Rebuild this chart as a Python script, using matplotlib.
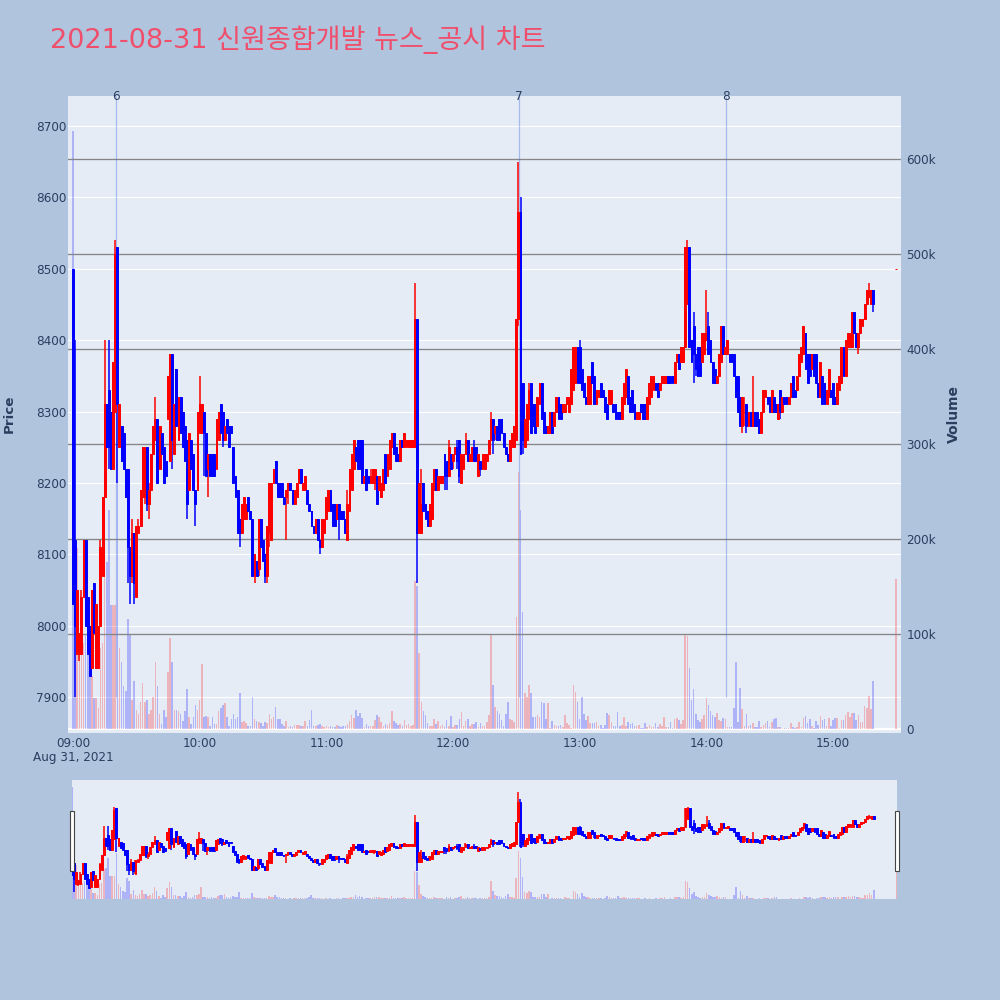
import numpy as np
import matplotlib
matplotlib.use("Agg")
import matplotlib.pyplot as plt
from matplotlib.patches import Rectangle

title = "2021-08-31 신원종합개발 뉴스_공시 차트"
hour_ticks = [0, 60, 120, 180, 240, 300, 360]
hour_labels = ["09:00", "10:00", "11:00", "12:00", "13:00", "14:00", "15:00"]
price_ticks = [7900, 8000, 8100, 8200, 8300, 8400, 8500, 8600, 8700]
volume_ticks = [0, 100, 200, 300, 400, 500, 600]
volume_labels = ["0", "100k", "200k", "300k", "400k", "500k", "600k"]
news_minutes = [20.4, 211.3, 309.3]
news_labels = ["6", "7", "8"]

minutes = list(range(380)) + [390]

opens = [
8500,8120,7960,7960,7960,8040,8120,8040,8000,7940,
8060,7940,7940,8000,8070,8180,8310,8330,8300,8220,
8300,8530,8250,8280,8270,8220,8220,8110,8070,8130,
8040,8130,8140,8180,8180,8250,8170,8190,8240,8260,
8290,8220,8270,8250,8230,8290,8230,8380,8240,8360,
8260,8320,8300,8280,8260,8190,8260,8240,8190,8190,
8270,8270,8300,8270,8220,8240,8240,8240,8220,8260,
8310,8300,8260,8290,8280,8280,8250,8210,8190,8150,
8130,8150,8150,8180,8160,8150,8070,8090,8080,8150,
8120,8100,8070,8130,8120,8200,8230,8200,8200,8200,
8180,8180,8190,8200,8190,8170,8180,8200,8220,8190,
8190,8190,8170,8160,8140,8130,8150,8120,8110,8130,
8150,8160,8190,8170,8170,8150,8170,8160,8160,8150,
8120,8160,8190,8220,8250,8260,8260,8260,8200,8220,
8210,8200,8200,8200,8210,8190,8180,8190,8240,8210,
8220,8250,8270,8250,8240,8230,8260,8250,8250,8250,
8250,8250,8250,8430,8130,8130,8200,8170,8160,8140,
8150,8190,8220,8190,8200,8200,8240,8230,8210,8240,
8230,8240,8250,8260,8200,8220,8240,8260,8230,8230,
8250,8250,8210,8230,8220,8220,8230,8240,8260,8290,
8270,8280,8290,8290,8270,8250,8240,8230,8250,8250,
8260,8430,8580,8340,8250,8260,8290,8340,8310,8310,
8280,8310,8340,8300,8280,8270,8270,8300,8280,8300,
8320,8310,8300,8300,8310,8300,8310,8330,8340,8390,
8390,8360,8340,8320,8310,8310,8370,8350,8310,8320,
8340,8330,8320,8310,8310,8310,8310,8310,8300,8300,
8290,8310,8320,8350,8320,8330,8310,8290,8290,8310,
8310,8310,8290,8310,8320,8330,8340,8340,8330,8340,
8340,8340,8350,8350,8350,8340,8370,8380,8370,8370,
8390,8450,8530,8400,8420,8380,8390,8390,8370,8380,
8400,8420,8400,8370,8360,8340,8350,8370,8420,8380,
8380,8380,8380,8380,8350,8350,8320,8280,8300,8310,
8280,8300,8280,8300,8300,8290,8270,8300,8320,8320,
8320,8300,8320,8310,8290,8330,8300,8320,8320,8310,
8320,8350,8330,8330,8350,8370,8380,8410,8380,8380,
8360,8380,8380,8340,8320,8350,8340,8310,8320,8330,
8340,8320,8310,8330,8340,8390,8350,8390,8390,8390,
8440,8410,8390,8410,8420,8430,8450,8460,8450,8470,
8500]

closes = [
8030,8000,8050,7990,8040,8120,8000,7960,7930,8050,
7990,8030,8000,8110,8180,8310,8250,8250,8220,8370,
8520,8310,8310,8230,8220,8180,8110,8070,8130,8060,
8140,8140,8190,8250,8250,8170,8190,8240,8280,8290,
8200,8280,8240,8200,8210,8350,8380,8260,8310,8280,
8320,8270,8250,8230,8170,8270,8220,8190,8170,8300,
8310,8310,8270,8210,8240,8210,8210,8210,8290,8300,
8270,8260,8280,8270,8250,8270,8200,8180,8130,8130,
8170,8180,8170,8160,8150,8070,8100,8070,8150,8110,
8090,8070,8140,8200,8200,8220,8200,8180,8180,8180,
8170,8190,8200,8190,8170,8190,8200,8220,8200,8200,
8210,8170,8160,8140,8130,8150,8120,8110,8150,8150,
8180,8190,8160,8140,8140,8170,8150,8150,8150,8130,
8170,8220,8240,8260,8230,8220,8220,8200,8210,8190,
8200,8210,8220,8220,8170,8210,8200,8220,8200,8240,
8260,8270,8240,8230,8230,8260,8250,8270,8260,8260,
8260,8260,8430,8130,8200,8170,8160,8150,8140,8170,
8200,8220,8190,8210,8210,8210,8210,8210,8250,8220,
8240,8250,8230,8210,8240,8240,8260,8230,8240,8250,
8230,8230,8240,8220,8240,8240,8240,8260,8290,8260,
8280,8260,8260,8270,8250,8240,8230,8260,8270,8280,
8430,8580,8240,8260,8290,8310,8330,8270,8280,8270,
8320,8340,8290,8270,8270,8280,8300,8270,8300,8320,
8290,8290,8310,8310,8320,8320,8360,8390,8390,8340,
8340,8330,8320,8310,8350,8350,8340,8310,8330,8330,
8320,8320,8300,8290,8330,8330,8300,8290,8290,8290,
8320,8340,8360,8310,8300,8300,8290,8300,8300,8300,
8290,8290,8320,8340,8350,8350,8330,8320,8340,8350,
8350,8350,8340,8340,8340,8370,8380,8360,8390,8390,
8530,8530,8390,8370,8380,8360,8350,8350,8410,8410,
8410,8380,8370,8340,8340,8350,8380,8420,8380,8390,
8400,8370,8370,8350,8320,8300,8280,8320,8300,8280,
8300,8280,8300,8280,8280,8270,8300,8330,8330,8310,
8300,8330,8300,8300,8310,8300,8320,8310,8310,8320,
8340,8320,8320,8350,8380,8390,8420,8360,8340,8350,
8380,8350,8340,8320,8370,8310,8310,8330,8360,8320,
8310,8310,8340,8350,8390,8350,8400,8410,8410,8440,
8410,8390,8410,8430,8430,8450,8470,8470,8470,8450,
8500]

highs = [
8500,8400,8050,7990,8050,8120,8120,8040,8000,8050,
8060,8030,8000,8120,8180,8400,8310,8400,8300,8370,
8540,8530,8310,8280,8270,8220,8220,8110,8150,8130,
8140,8150,8190,8250,8250,8250,8200,8240,8280,8320,
8290,8280,8270,8250,8230,8350,8380,8380,8310,8360,
8320,8320,8300,8280,8260,8270,8260,8240,8190,8300,
8350,8310,8300,8270,8240,8240,8240,8240,8290,8300,
8310,8300,8280,8290,8280,8280,8250,8210,8190,8150,
8170,8180,8170,8180,8160,8150,8100,8090,8150,8150,
8120,8100,8140,8200,8200,8220,8230,8200,8200,8200,
8180,8190,8200,8200,8190,8190,8200,8220,8220,8200,
8210,8190,8170,8160,8140,8150,8150,8120,8150,8150,
8180,8190,8190,8170,8170,8170,8170,8160,8160,8150,
8190,8220,8240,8260,8250,8260,8260,8260,8210,8220,
8210,8220,8220,8220,8210,8210,8200,8220,8240,8240,
8260,8270,8270,8250,8240,8260,8260,8270,8260,8260,
8260,8260,8480,8430,8200,8220,8200,8170,8160,8170,
8200,8220,8220,8210,8210,8210,8240,8230,8260,8240,
8240,8250,8260,8260,8240,8240,8270,8260,8240,8250,
8260,8250,8240,8230,8240,8240,8240,8260,8300,8290,
8280,8280,8290,8290,8270,8250,8240,8260,8270,8280,
8430,8650,8600,8340,8290,8310,8340,8340,8310,8310,
8320,8340,8340,8300,8280,8280,8300,8300,8300,8320,
8320,8310,8310,8310,8320,8320,8360,8390,8390,8390,
8400,8360,8340,8320,8350,8350,8370,8350,8330,8330,
8340,8330,8320,8310,8330,8330,8310,8310,8300,8300,
8320,8340,8360,8350,8320,8330,8310,8300,8300,8310,
8310,8310,8320,8340,8350,8350,8340,8340,8340,8350,
8350,8350,8350,8350,8350,8370,8380,8380,8390,8390,
8530,8540,8530,8400,8440,8380,8390,8390,8410,8410,
8470,8440,8400,8370,8360,8350,8380,8420,8420,8390,
8400,8380,8380,8380,8350,8350,8320,8320,8320,8310,
8300,8300,8350,8300,8300,8290,8300,8330,8330,8320,
8320,8330,8320,8310,8310,8330,8320,8320,8320,8320,
8340,8350,8330,8350,8380,8390,8420,8410,8380,8380,
8380,8380,8380,8340,8370,8350,8340,8330,8360,8330,
8340,8320,8340,8350,8390,8390,8400,8410,8410,8440,
8440,8410,8410,8430,8430,8450,8470,8480,8470,8470,
8500]

lows = [
8030,7900,7960,7950,7960,8040,8000,7960,7930,7940,
7990,7940,7940,8000,8070,8180,8250,8220,8220,8220,
8300,8200,8250,8230,8220,8180,8060,8030,8060,8030,
8040,8130,8140,8180,8170,8160,8150,8190,8240,8260,
8200,8220,8240,8200,8210,8290,8230,8220,8240,8280,
8260,8270,8250,8230,8150,8190,8220,8190,8140,8190,
8270,8270,8210,8210,8180,8210,8210,8210,8220,8260,
8270,8250,8260,8270,8250,8270,8200,8180,8130,8110,
8130,8150,8150,8160,8150,8070,8060,8070,8070,8110,
8090,8060,8060,8110,8120,8200,8200,8180,8180,8180,
8170,8120,8170,8190,8170,8170,8180,8200,8200,8190,
8190,8170,8160,8140,8130,8130,8120,8100,8110,8130,
8150,8160,8160,8140,8140,8150,8120,8150,8150,8130,
8120,8160,8190,8220,8230,8220,8220,8200,8200,8190,
8200,8200,8200,8190,8170,8190,8180,8190,8200,8210,
8220,8250,8240,8230,8230,8230,8250,8250,8250,8250,
8250,8250,8250,8060,8130,8130,8160,8150,8140,8140,
8150,8190,8190,8190,8200,8200,8190,8190,8210,8220,
8220,8240,8220,8200,8200,8220,8240,8230,8230,8230,
8230,8230,8210,8210,8220,8220,8230,8240,8260,8240,
8260,8260,8260,8270,8250,8240,8230,8230,8250,8250,
8260,8420,8240,8240,8250,8260,8290,8270,8280,8270,
8280,8310,8290,8270,8270,8270,8270,8270,8280,8300,
8290,8290,8300,8300,8310,8300,8310,8330,8340,8340,
8340,8330,8320,8310,8310,8310,8340,8310,8310,8320,
8320,8320,8300,8290,8310,8310,8300,8290,8290,8290,
8290,8310,8320,8310,8300,8300,8290,8290,8290,8300,
8290,8290,8290,8310,8320,8330,8330,8320,8330,8340,
8340,8340,8340,8340,8340,8340,8370,8360,8370,8370,
8390,8450,8390,8370,8340,8350,8350,8350,8370,8380,
8400,8380,8370,8340,8340,8340,8350,8370,8380,8380,
8380,8370,8370,8350,8320,8300,8280,8270,8280,8270,
8280,8280,8280,8280,8280,8270,8270,8300,8320,8310,
8300,8300,8300,8300,8290,8290,8300,8310,8310,8310,
8320,8320,8320,8330,8350,8370,8380,8360,8340,8350,
8360,8350,8340,8320,8320,8310,8310,8310,8320,8320,
8310,8310,8310,8330,8340,8350,8350,8390,8390,8390,
8410,8390,8380,8410,8420,8430,8450,8460,8450,8440,
8500]

volumes_k = [
630,400,190,100,85,90,100,80,60,55,
32,32,22,85,90,170,175,230,130,130,
130,260,85,70,45,40,115,100,30,50,
20,15,28,48,28,30,15,20,33,70,
45,15,5,20,12,60,95,70,20,20,
18,15,8,18,42,12,5,12,25,20,
30,68,12,13,12,3,12,5,5,18,
22,25,27,12,3,10,15,10,12,37,
7,8,6,3,3,33,10,8,7,6,
3,7,6,15,10,12,23,10,10,5,
3,8,2,3,2,4,4,4,3,3,
8,3,9,20,3,3,4,5,3,2,
3,2,3,2,2,4,3,2,3,3,
5,8,14,11,20,13,16,11,2,5,
3,3,3,9,14,12,7,3,5,4,
6,18,8,6,4,5,3,9,4,5,
3,4,155,150,80,28,18,14,6,3,
3,10,5,8,3,4,2,9,3,13,
2,4,4,10,17,3,8,10,3,5,
5,7,2,6,3,3,7,14,100,46,
23,18,15,9,3,15,28,10,9,7,
118,270,230,123,37,33,46,37,12,12,
14,12,28,27,10,27,1,8,4,3,
3,4,2,14,6,4,1,46,38,28,
10,33,15,9,13,6,6,6,7,3,
4,1,4,16,14,7,3,3,17,3,
4,12,3,7,5,6,3,3,4,1,
1,6,2,4,2,2,6,2,5,3,
12,2,2,7,1,10,11,9,5,9,
100,97,64,30,42,15,9,7,10,14,
32,25,18,14,12,16,9,8,11,10,
2,2,2,22,70,7,43,21,3,15,
3,4,6,2,2,8,2,4,6,8,
2,7,10,11,2,2,1,1,1,1,
6,2,1,2,7,2,11,13,6,10,
3,1,8,4,13,9,10,3,11,3,
9,11,11,1,9,9,14,17,12,16,
16,9,14,7,7,24,22,34,21,50,
158]

BG = "#B0C4DE"
PLOT = "#E5ECF6"
INK = "#2a3f5f"
plt.rcParams["font.family"] = ["DejaVu Sans", "Noto Sans CJK KR"]

W, H = 1000, 1000
PX_PER_MIN = 2.111
PRICE_LIM = (7849.6, 8742.0)
VOL_LIM = (-4.7, 666.4)


def rect(l, t, r, b):
    return [l / W, 1 - b / H, (r - l) / W, (b - t) / H]


x = np.array(minutes, float)
o, c = np.array(opens, float), np.array(closes, float)
h, l = np.array(highs, float), np.array(lows, float)
v = np.array(volumes_k, float)
colors = np.where(c >= o, "#ff0000", "#0000ff")


def draw(price_ax, vol_ax):
    vol_ax.bar(x, v, width=0.75, color=colors, alpha=0.24, linewidth=0, zorder=2)
    price_ax.vlines(x, l, h, colors=colors, linewidth=1.1, zorder=4)
    price_ax.bar(x, np.abs(c - o), bottom=np.minimum(o, c), width=0.9, color=colors,
                 edgecolor=colors, linewidth=0.7, zorder=5)


fig = plt.figure(figsize=(10, 10), dpi=100, facecolor=BG)

# Main panel: volume axis behind, price axis on top
vol_ax = fig.add_axes(rect(68, 96, 901, 733), facecolor=PLOT)
price_ax = fig.add_axes(rect(68, 96, 901, 733), facecolor="none")
xlim = (-5 / PX_PER_MIN, (901 - 73) / PX_PER_MIN)
for ax in (vol_ax, price_ax):
    ax.set_xlim(*xlim)
    for s in ax.spines.values():
        s.set_visible(False)

vol_ax.set_ylim(*VOL_LIM)
price_ax.set_ylim(*PRICE_LIM)
vol_ax.yaxis.tick_right()
vol_ax.yaxis.set_label_position("right")
vol_ax.set_yticks(volume_ticks)
vol_ax.set_yticklabels(volume_labels)
vol_ax.tick_params(axis="y", length=0, pad=4.0, labelsize=8.64, labelcolor=INK)
price_ax.set_yticks(price_ticks)
price_ax.tick_params(axis="y", length=0, pad=1.2, labelsize=8.64, labelcolor=INK)

for t in price_ticks:
    vol_ax.axhline((t - PRICE_LIM[0]) / (PRICE_LIM[1] - PRICE_LIM[0]) * (VOL_LIM[1] - VOL_LIM[0]) + VOL_LIM[0],
                   color="white", lw=0.85, zorder=1)
for t in volume_ticks[1:]:
    vol_ax.axhline(t, color="#868686", lw=0.95, zorder=3)
vol_ax.axhline(0, color="white", lw=1.6, zorder=1)

price_ax.set_xticks(hour_ticks)
price_ax.set_xticklabels(hour_labels)
price_ax.tick_params(axis="x", length=0, pad=2.6, labelsize=8.64, labelcolor=INK)
vol_ax.set_xticks([])

draw(price_ax, vol_ax)

for m, lab in zip(news_minutes, news_labels):
    price_ax.vlines(m, 7900, PRICE_LIM[1], color="#4169e1", alpha=0.38, linewidth=0.9, zorder=3)
    price_ax.text(m, PRICE_LIM[1] - 1, lab, ha="center", va="center", fontsize=8.64, color=INK, zorder=6)

fig.text(9.5 / W, 1 - 414 / H, "Price", rotation=90, ha="center", va="center",
         fontsize=9.7, fontweight="bold", color=INK)
fig.text(953.5 / W, 1 - 414 / H, "Volume", rotation=90, ha="center", va="center",
         fontsize=10, fontweight="bold", color=INK)
fig.text(73 / W, 1 - 757.5 / H, "Aug 31, 2021", ha="center", va="center", fontsize=8.64, color=INK)
fig.text(50 / W, 1 - 40 / H, title, ha="left", va="center", fontsize=19.5, color="#EF4F6B")

# Range slider
sv = fig.add_axes(rect(72, 780, 897, 899), facecolor=PLOT)
sp = fig.add_axes(rect(72, 780, 897, 899), facecolor="none")
for ax in (sv, sp):
    ax.set_xlim(0, 390)
    ax.set_xticks([])
    ax.set_yticks([])
    for s in ax.spines.values():
        s.set_visible(False)
sv.set_ylim(0, VOL_LIM[1])
sp.set_ylim(*PRICE_LIM)
draw(sp, sv)

for left in (69.5, 895.0):
    fig.add_artist(Rectangle((left / W, 1 - 870.5 / H), 4 / W, 60 / H, transform=fig.transFigure,
                             facecolor="white", edgecolor="#444444", linewidth=0.8, zorder=10))

fig.savefig("out.png", dpi=100, facecolor=BG)
